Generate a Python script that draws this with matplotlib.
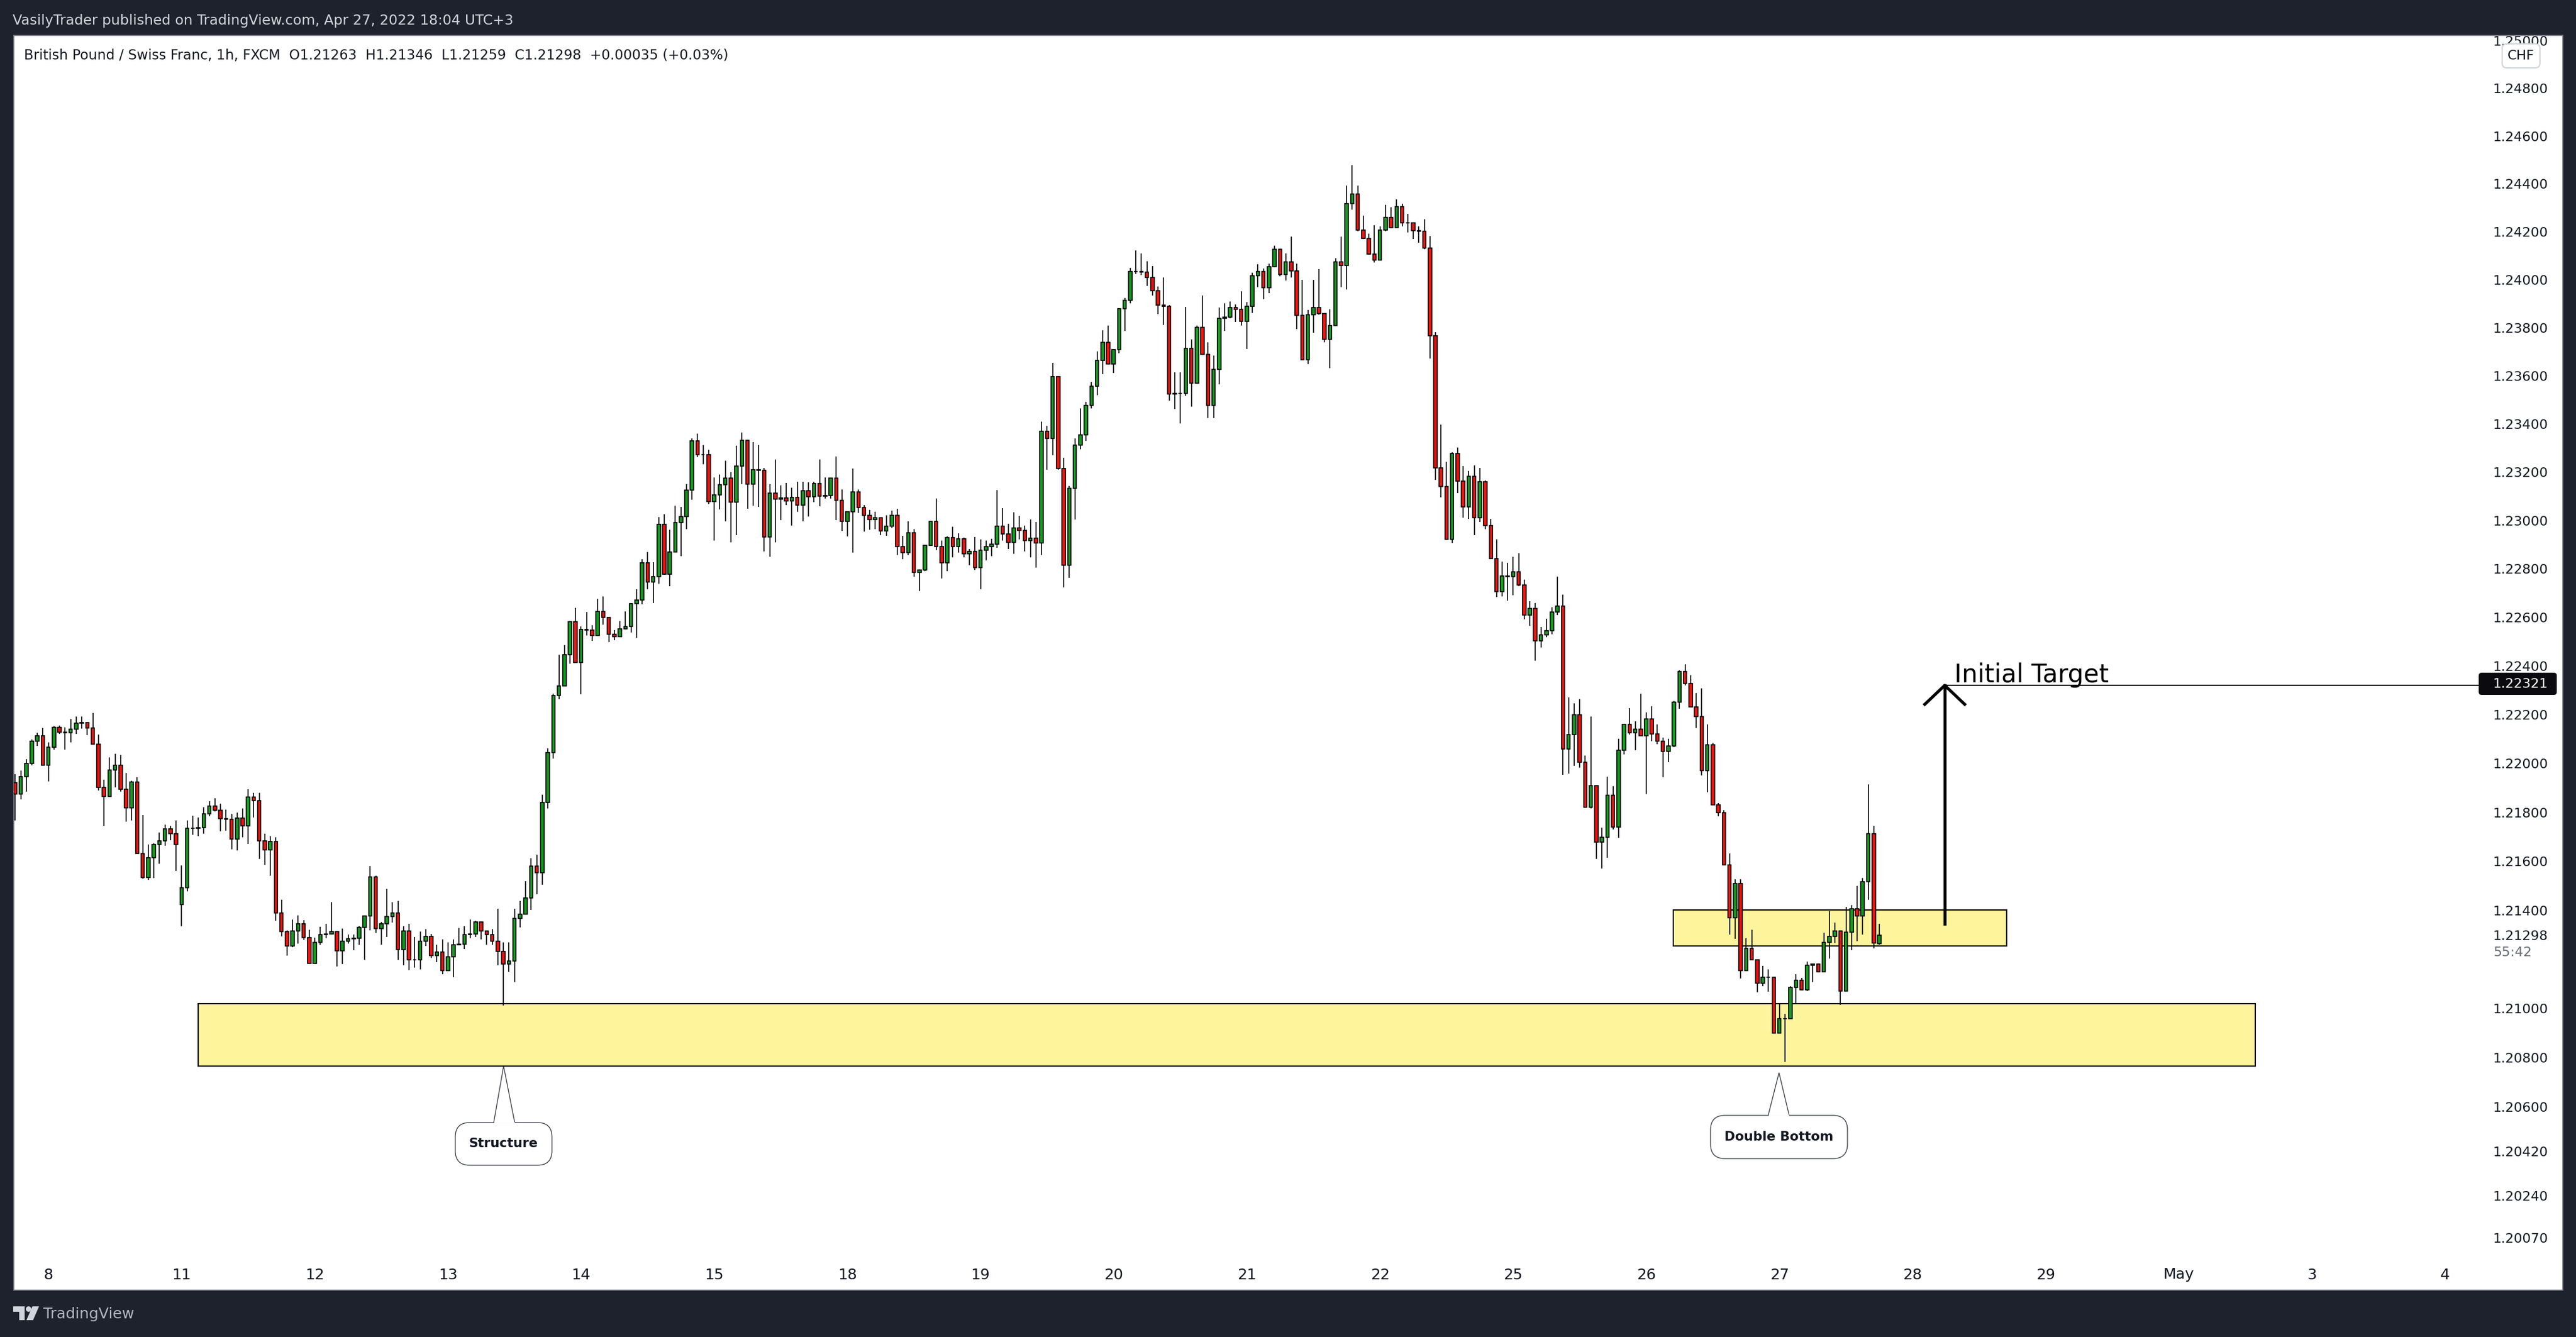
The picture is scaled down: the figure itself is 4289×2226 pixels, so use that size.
#!/usr/bin/env python3
# -*- coding: utf-8 -*-
"""
GBP/CHF 1h candles with zones and callouts
"""

import numpy as np
import matplotlib
matplotlib.use('Agg')
import matplotlib.pyplot as plt
from matplotlib.patches import Rectangle, FancyBboxPatch, Polygon, Circle
from matplotlib.transforms import Affine2D

# All prices are in points above 1.2 (1 point = 0.00001), one bar per hour
first_bar = -6
first_open = 1921
open_gaps = {24: 1424, 330: 1263}

closes = [1876,1946,2000,2093,2113,1994,
    2066,2148,2128,2126,2140,2165,2167,2146,2080,1903,1866,1973,1993,1895,1819,1924,1632,1534,1614,1669,1683,1732,1713,1669,
    1492,1735,1736,1738,1794,1826,1809,1775,1773,1691,1777,1745,1863,1849,1684,1647,1681,1389,1313,1254,1315,1344,1288,1183,
    1270,1300,1304,1312,1235,1273,1283,1286,1330,1376,1536,1326,1345,1374,1389,1240,1315,1199,1199,1275,1293,1215,1231,1153,
    1211,1260,1262,1300,1304,1352,1316,1300,1275,1233,1182,1193,1367,1384,1450,1580,1554,1840,2045,2278,2318,2446,2584,2416,
    2551,2548,2526,2626,2600,2531,2522,2554,2564,2658,2672,2826,2747,2769,2985,2779,2871,2993,3018,3127,3331,3273,3273,3078,
    3107,3149,3177,3076,3226,3333,3150,3211,3209,2932,3113,3088,3093,3081,3096,3065,3123,3098,3154,3101,3103,3176,3084,2998,
    3037,3118,3055,3023,3004,3012,2957,2977,3022,2892,2867,2950,2786,2795,2898,2996,2894,2827,2929,2894,2924,2862,2872,2807,
    2877,2892,2902,2976,2944,2909,2969,2959,2917,2927,2907,3371,3340,3596,3215,2815,3134,3313,3355,3478,3556,3663,3738,3650,
    3709,3880,3915,4035,4034,4031,4009,3955,3895,3890,3525,3526,3528,3715,3570,3802,3690,3476,3628,3838,3843,3885,3877,3827,
    3888,4017,4033,3966,4055,4127,4022,4075,4036,3852,3667,3855,3885,3859,3752,3808,4075,4060,4318,4358,4206,4172,4107,4081,
    4206,4260,4218,4305,4238,4237,4204,4203,4132,3767,3219,3142,2923,3277,3164,3057,3184,3012,3162,2979,2842,2707,2771,2770,
    2788,2733,2610,2637,2505,2528,2545,2622,2647,2060,2119,2200,2005,1820,1909,1678,1699,1869,1741,2055,2161,2126,2142,2114,
    2184,2121,2092,2049,2072,2253,2379,2328,2233,2193,1970,2077,1830,1798,1586,1370,1508,1153,1245,1198,1102,1128,1128,901,
    959,959,1085,1116,1076,1177,1181,1150,1269,1294,1315,1071,1311,1407,1376,1517,1714,1266,1298]

highs = [1957,1971,2018,2098,2126,2146,
    2088,2153,2157,2148,2184,2193,2193,2168,2208,2120,1933,2026,2039,2036,1960,1930,1943,1788,1668,1674,1717,1749,1744,1766,
    1582,1766,1786,1778,1820,1845,1857,1835,1810,1793,1798,1815,1894,1881,1879,1714,1702,1697,1444,1319,1363,1378,1360,1321,
    1289,1333,1344,1434,1316,1326,1302,1302,1336,1380,1581,1542,1353,1488,1434,1439,1334,1344,1290,1314,1322,1304,1258,1282,
    1268,1282,1327,1336,1361,1356,1353,1316,1322,1407,1270,1268,1405,1439,1520,1613,1628,1872,2063,2287,2448,2487,2585,2639,
    2563,2623,2569,2676,2686,2599,2549,2585,2624,2661,2716,2841,2870,2828,3014,3027,2962,3061,3056,3150,3339,3359,3312,3294,
    3178,3192,3249,3201,3310,3365,3333,3326,3312,3218,3150,3254,3146,3155,3137,3160,3160,3158,3160,3252,3178,3176,3265,3128,
    3037,3215,3128,3063,3044,3036,3012,3021,3041,3049,2937,2996,2964,2799,2901,2998,3091,2917,2936,2974,2947,2929,2884,2932,
    2922,2917,2924,3126,3051,2986,3034,3019,2979,3004,2994,3410,3392,3653,3598,3260,3144,3340,3464,3491,3574,3702,3788,3809,
    3712,3881,3925,4049,4123,4109,4076,4056,3972,4010,3894,3614,3614,3886,3751,3810,3935,3738,3684,3885,3901,3909,3897,3951,
    3906,4028,4063,4046,4066,4142,4130,4109,4179,4066,4000,3873,3998,4043,3859,3876,4089,4180,4393,4477,4393,4267,4192,4227,
    4221,4312,4303,4335,4318,4275,4233,4221,4253,4182,3781,3397,3243,3283,3302,3226,3205,3227,3217,3166,3007,2923,2830,2826,
    2851,2865,2757,2667,2660,2562,2595,2642,2768,2695,2271,2246,2264,2032,2192,1909,1737,1946,1908,2102,2162,2228,2172,2286,
    2210,2235,2162,2106,2102,2257,2382,2408,2364,2289,2308,2161,2084,1837,1809,1633,1527,1527,1287,1321,1198,1174,1160,1128,
    1019,977,1090,1139,1125,1191,1181,1181,1308,1396,1351,1317,1414,1421,1499,1530,1915,1745,1346]

lows = [1766,1852,1885,1993,2073,1993,
    1926,2057,2122,2058,2088,2122,2144,2117,2080,1891,1744,1862,1901,1886,1763,1766,1632,1528,1525,1532,1589,1663,1687,1560,
    1336,1478,1709,1704,1714,1783,1803,1722,1724,1648,1645,1697,1670,1778,1609,1586,1542,1358,1294,1215,1250,1265,1279,1183,
    1183,1260,1285,1306,1172,1182,1265,1238,1258,1197,1319,1307,1260,1290,1351,1197,1177,1157,1167,1160,1255,1206,1189,1140,
    1153,1128,1258,1243,1287,1290,1282,1258,1258,1177,1013,1148,1108,1331,1384,1402,1466,1505,1815,2021,2265,2320,2411,2416,
    2284,2526,2504,2526,2572,2500,2506,2522,2552,2539,2517,2656,2716,2659,2740,2777,2728,2872,2852,2964,3086,3262,3234,3070,
    2917,3046,2996,2910,2939,3152,3050,3062,3056,2874,2850,2910,3001,3064,2979,3036,2996,3016,3076,3059,3092,3092,3002,2957,
    2934,2869,3031,2954,2962,2966,2939,2937,2971,2859,2840,2859,2770,2710,2790,2898,2879,2762,2792,2847,2869,2849,2817,2797,
    2717,2837,2852,2889,2917,2882,2864,2922,2874,2847,2805,2857,3211,3270,3211,2724,2765,3004,3296,3330,3465,3520,3606,3650,
    3612,3695,3787,3901,4024,4018,3974,3933,3856,3812,3497,3461,3403,3517,3471,3567,3687,3425,3425,3565,3787,3840,3823,3810,
    3711,3861,3968,3918,3944,4055,4013,3997,4008,3795,3667,3648,3779,3855,3739,3632,3810,3968,3960,4293,4201,4169,4105,4072,
    4081,4203,4215,4219,4222,4197,4170,4155,4128,3672,3168,3097,2923,2908,3115,3013,3008,2941,2994,2966,2842,2685,2688,2671,
    2692,2730,2593,2566,2422,2476,2520,2532,2610,1954,1958,1990,1984,1819,1816,1610,1570,1615,1729,1696,2038,2120,2054,2114,
    1874,2091,2080,1945,2006,2066,2224,2320,2233,2145,1952,1882,1830,1785,1586,1301,1284,1121,1153,1198,1067,1090,1069,901,
    901,782,959,1023,1073,1070,1108,1146,1150,1202,1266,1015,1071,1238,1273,1301,1442,1245,1259]

# Time axis labels, one every 24 bars
day_labels = ['8','11','12','13','14','15','18','19','20','21','22','25','26','27','28','29','May','3','4']

# Price axis labels
price_ticks = [1.25,1.248,1.246,1.244,1.242,1.24,1.238,1.236,1.234,1.232,1.23,1.228,1.226,1.224,
               1.222,1.22,1.218,1.216,1.214,1.21298,1.21,1.208,1.206,1.2042,1.2024,1.2007]

# Zones and target, as (first bar, last bar, top price, bottom price)
big_zone = (27.0, 397.8, 1.21019, 1.20767)
small_zone = (292.9, 352.9, 1.21401, 1.21254)
target_price = 1.22321
arrow_bar = 341.8
arrow_low = 1.21346
arrow_head_bars = 3.6
arrow_head_price = 1.22243
line_end_bar = 438.4

W, H = 4289, 2226
BG = '#1e222d'
TEXT = '#131722'

assert len(closes) == len(highs) == len(lows) == 337

bars = first_bar + np.arange(len(closes))
c = 1.2 + np.array(closes) / 1e5
h = 1.2 + np.array(highs) / 1e5
l = 1.2 + np.array(lows) / 1e5
o = np.r_[1.2 + first_open / 1e5, c[:-1]]
for b, v in open_gaps.items():
    o[b - first_bar] = 1.2 + v / 1e5

fig = plt.figure(figsize=(W / 100, H / 100), dpi=100, facecolor=BG)
plt.rcParams['font.family'] = ['DejaVu Sans']

# Pixel coordinates of the picture, origin at top left
px = Affine2D().scale(1 / W, -1 / H).translate(0, 1) + fig.transFigure

ax = fig.add_axes([22.5 / W, 1 - 2148 / H, (4267 - 22.5) / W, (2148 - 59) / H])
ax.set_facecolor('white')
ax.set_yscale('log')
ax.set_xlim(-6.3, 453.2)
ax.set_ylim(1.1986, 1.25022)

for s in ax.spines.values():
    s.set_color('#787b86')
    s.set_linewidth(1.2)

# Zones under the candles
for x0, x1, top, bot in [big_zone, small_zone]:
    ax.add_patch(Rectangle((x0, bot), x1 - x0, top - bot, facecolor='#fef49c',
                           edgecolor='black', linewidth=1.5, zorder=1))

# Candles
up = c >= o
colors = np.where(up, '#0f9d1a', '#fb1109')
ax.vlines(bars, l, h, color='black', linewidth=1.2, zorder=3)
ax.bar(bars, np.abs(c - o), bottom=np.minimum(o, c), width=0.6, color=colors,
       edgecolor='black', linewidth=1.2, zorder=4)

# Target line and arrow
ax.plot([arrow_bar, line_end_bar], [target_price, target_price], color='black', linewidth=1.5, zorder=5)
ax.plot([arrow_bar, arrow_bar], [arrow_low, target_price], color='black', linewidth=3.6, zorder=5)
ax.plot([arrow_bar - arrow_head_bars, arrow_bar, arrow_bar + arrow_head_bars],
        [arrow_head_price, target_price, arrow_head_price], color='black', linewidth=3.6, zorder=5)
ax.text(3254, 1136, 'Initial Target', transform=px, fontsize=30, color='black', va='baseline', zorder=6)

# Axis labels sit inside the white area
ax.set_xticks(np.arange(len(day_labels)) * 24, day_labels)
ax.set_yticks(price_ticks, ['%.5f' % p for p in price_ticks])
ax.minorticks_off()
ax.yaxis.tick_right()
ax.tick_params(axis='x', direction='in', length=0, pad=-27, labelsize=18, labelcolor=TEXT)
ax.tick_params(axis='y', direction='in', length=0, pad=-83.5, labelsize=16, labelcolor=TEXT)

# Price scale extras
ax.add_patch(FancyBboxPatch((4127, 1120), 130, 37, boxstyle='round,pad=0,rounding_size=5',
                            transform=px, facecolor='#0b0b0f', edgecolor='none', clip_on=False, zorder=7))
ax.text(4151, 1139, '1.22321', transform=px, color='white', fontsize=16, va='center', zorder=8)
ax.text(4151, 1586, '55:42', transform=px, color='#6a6d78', fontsize=16, va='center', zorder=8)
ax.add_patch(FancyBboxPatch((4166, 73), 63, 40, boxstyle='round,pad=0,rounding_size=8', transform=px,
                            facecolor='white', edgecolor='#d1d4dc', linewidth=1.5, clip_on=False, zorder=7))
ax.text(4197.5, 93, 'CHF', transform=px, color=TEXT, fontsize=16, ha='center', va='center', zorder=8)


# Callout with a pointer on its top edge
def callout(x0, y0, x1, y1, tip_x, tip_y, base0, base1, label):
    ax.add_patch(FancyBboxPatch((x0, y0), x1 - x0, y1 - y0, boxstyle='round,pad=0,rounding_size=24',
                                transform=px, facecolor='white', edgecolor='#2a2e39', linewidth=0.9, zorder=7))
    ax.add_patch(Polygon([(base0, y0), (tip_x, tip_y), (base1, y0)], closed=False, transform=px,
                         facecolor='white', edgecolor='#2a2e39', linewidth=0.9, zorder=7))
    ax.plot([base0 + 1.5, base1 - 1.5], [y0, y0], transform=px, color='white', linewidth=1.4, zorder=8)
    ax.text((x0 + x1) / 2, (y0 + y1) / 2, label, transform=px, color=TEXT, fontsize=15.5,
            fontweight='bold', ha='center', va='center', zorder=9)


callout(758, 1869, 919, 1940, 838.5, 1775, 822, 857, 'Structure')
callout(2848, 1857, 3076, 1929, 2962, 1786, 2944, 2979, 'Double Bottom')

# Header, legend and footer
fig.text(21 / W, 1 - 35 / H, 'VasilyTrader published on TradingView.com, Apr 27, 2022 18:04 UTC+3',
         color='#d1d4dc', fontsize=16.8, va='center')
ax.text(40, 93, 'British Pound / Swiss Franc, 1h, FXCM  O1.21263  H1.21346  L1.21259  C1.21298  +0.00035 (+0.03%)',
        transform=px, color=TEXT, fontsize=16.5, va='center')

# TradingView logo
logo = '#d1d4dc'
fig.add_artist(Polygon([(22, 2175), (41, 2175), (41, 2198), (32, 2198), (32, 2184), (22, 2184)],
                       transform=px, facecolor=logo, edgecolor='none'))
fig.add_artist(Circle((47.5, 2179.5), 4.5, transform=px, facecolor=logo, edgecolor='none'))
fig.add_artist(Polygon([(54, 2175), (65, 2175), (55, 2198), (44, 2198)],
                       transform=px, facecolor=logo, edgecolor='none'))
fig.text(72 / W, 1 - 2188 / H, 'TradingView', color='#b2b5be', fontsize=18, va='center')

fig.savefig('out.png', dpi=100, facecolor=BG)
